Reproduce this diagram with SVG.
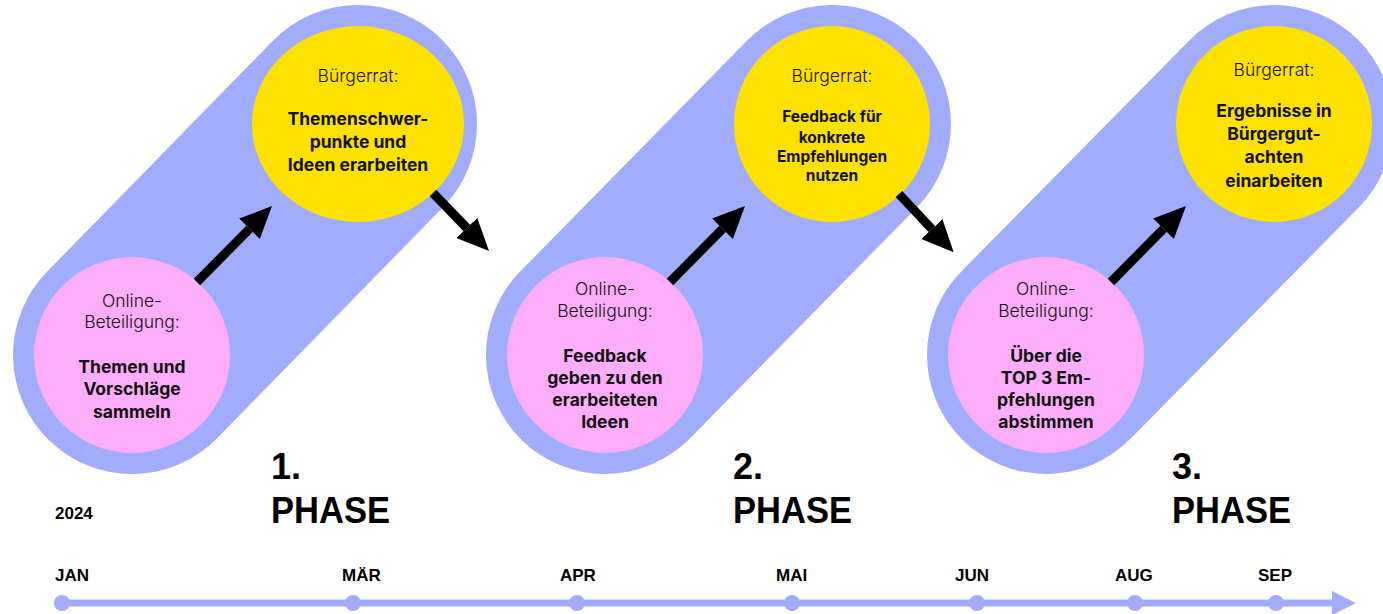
<svg xmlns="http://www.w3.org/2000/svg" width="1383" height="614" viewBox="0 0 1383 614">
<style>
.band{stroke:#A2ACFD;stroke-width:238;stroke-linecap:round;fill:none}
.pink{fill:#FDADF9}
.yel{fill:#FFE100}
.t{font-family:Inter,"Noto Sans",sans-serif;text-anchor:middle;fill:#111}
.lt{font-weight:300;font-size:17.5px}
.bd{font-weight:700;font-size:17.5px}
.bs{font-weight:700;font-size:15.5px}
.arr{stroke:#000;stroke-width:9;fill:none;marker-end:url(#ah)}
.ph{font-family:"Liberation Sans",Arial,sans-serif;font-weight:700;font-size:36px;fill:#000}
.mo{font-family:"Liberation Sans",Arial,sans-serif;font-weight:700;font-size:17px;fill:#000}
.tl{stroke:#A2ACFD;stroke-width:7;fill:none}
.dot{fill:#A2ACFD}
</style>
<defs>
<marker id="ah" viewBox="0 0 32 29" refX="0" refY="14.5" markerWidth="32" markerHeight="29" markerUnits="userSpaceOnUse" orient="auto">
<path d="M0,0 L32,14.5 L0,29 z" fill="#000"/>
</marker>
</defs>

<g id="bands">
<line class="band" x1="132" y1="355" x2="358" y2="124"/>
<line class="band" x1="605" y1="355" x2="832" y2="124"/>
<line class="band" x1="1046" y1="355" x2="1274" y2="124"/>
</g>

<g id="p1-online">
<circle class="pink" cx="132" cy="355" r="98"/>
<text class="t lt" x="132" y="307">Online-</text>
<text class="t lt" x="132" y="328">Beteiligung:</text>
<text class="t bd" x="132" y="373">Themen und</text>
<text class="t bd" x="132" y="395">Vorschläge</text>
<text class="t bd" x="132" y="418">sammeln</text>
</g>
<g id="p1-rat">
<ellipse class="yel" cx="358" cy="124" rx="106" ry="98"/>
<text class="t lt" x="358" y="82">Bürgerrat:</text>
<text class="t bd" x="358" y="125">Themenschwer-</text>
<text class="t bd" x="358" y="148">punkte und</text>
<text class="t bd" x="358" y="171">Ideen erarbeiten</text>
</g>

<g id="p2-online">
<circle class="pink" cx="605" cy="355" r="98"/>
<text class="t lt" x="605" y="295">Online-</text>
<text class="t lt" x="605" y="317">Beteiligung:</text>
<text class="t bd" x="605" y="362">Feedback</text>
<text class="t bd" x="605" y="384">geben zu den</text>
<text class="t bd" x="605" y="406">erarbeiteten</text>
<text class="t bd" x="605" y="428">Ideen</text>
</g>
<g id="p2-rat">
<circle class="yel" cx="832" cy="124" r="98"/>
<text class="t lt" x="832" y="82">Bürgerrat:</text>
<text class="t bs" x="832" y="122">Feedback für</text>
<text class="t bs" x="832" y="143">konkrete</text>
<text class="t bs" x="832" y="162">Empfehlungen</text>
<text class="t bs" x="832" y="181">nutzen</text>
</g>

<g id="p3-online">
<circle class="pink" cx="1046" cy="355" r="98"/>
<text class="t lt" x="1046" y="295">Online-</text>
<text class="t lt" x="1046" y="317">Beteiligung:</text>
<text class="t bd" x="1046" y="362">Über die</text>
<text class="t bd" x="1046" y="384">TOP 3 Em-</text>
<text class="t bd" x="1046" y="406">pfehlungen</text>
<text class="t bd" x="1046" y="428">abstimmen</text>
</g>
<g id="p3-rat">
<circle class="yel" cx="1274" cy="124" r="98"/>
<text class="t lt" x="1274" y="76">Bürgerrat:</text>
<text class="t bd" x="1274" y="117">Ergebnisse in</text>
<text class="t bd" x="1274" y="140">Bürgergut-</text>
<text class="t bd" x="1274" y="163">achten</text>
<text class="t bd" x="1274" y="187">einarbeiten</text>
</g>

<g id="connectors">
<line class="arr" x1="197" y1="282" x2="249.5" y2="228.8"/>
<line class="arr" x1="670" y1="282" x2="722.5" y2="228.8"/>
<line class="arr" x1="1111" y1="282" x2="1163.5" y2="228.8"/>
<line class="arr" x1="433" y1="193" x2="466.8" y2="228"/>
<line class="arr" x1="899" y1="194" x2="931.8" y2="229"/>
</g>

<g id="phases">
<text class="ph" x="271" y="479">1.</text>
<text class="ph" x="271" y="523" textLength="119" lengthAdjust="spacingAndGlyphs">PHASE</text>
<text class="ph" x="733" y="479">2.</text>
<text class="ph" x="733" y="523" textLength="119" lengthAdjust="spacingAndGlyphs">PHASE</text>
<text class="ph" x="1172" y="479">3.</text>
<text class="ph" x="1172" y="523" textLength="119" lengthAdjust="spacingAndGlyphs">PHASE</text>
</g>

<g id="timeline">
<text class="mo" x="55" y="519">2024</text>
<line class="tl" x1="62" y1="603" x2="1334" y2="603"/>
<polygon class="dot" points="1332,591 1356,603 1332,615"/>
<circle class="dot" cx="62" cy="603" r="8"/>
<circle class="dot" cx="353" cy="603" r="8"/>
<circle class="dot" cx="577" cy="603" r="8"/>
<circle class="dot" cx="792" cy="603" r="8"/>
<circle class="dot" cx="977" cy="603" r="8"/>
<circle class="dot" cx="1135" cy="603" r="8"/>
<circle class="dot" cx="1276" cy="603" r="8"/>
<text class="mo" x="55" y="581">JAN</text>
<text class="mo" x="342" y="581">MÄR</text>
<text class="mo" x="560" y="581">APR</text>
<text class="mo" x="776" y="581">MAI</text>
<text class="mo" x="955" y="581">JUN</text>
<text class="mo" x="1115" y="581">AUG</text>
<text class="mo" x="1258" y="581">SEP</text>
</g>
</svg>
